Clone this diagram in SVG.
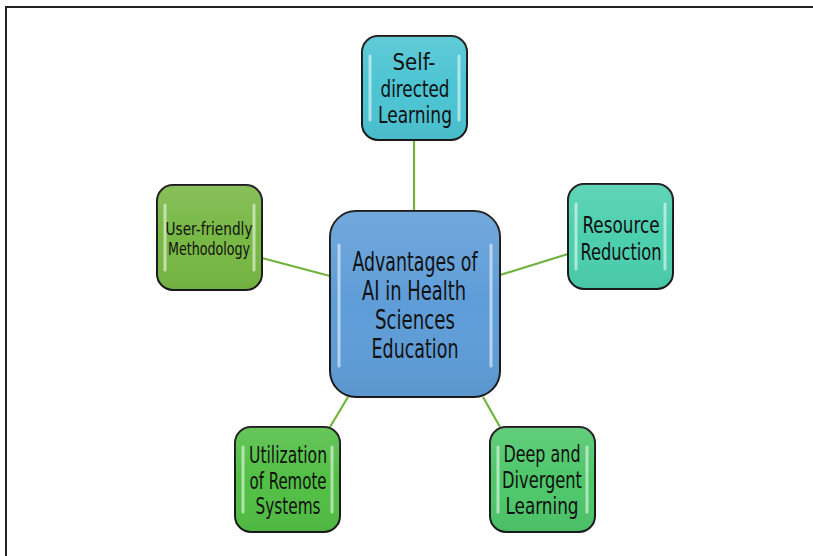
<svg xmlns="http://www.w3.org/2000/svg" width="813" height="556" viewBox="0 0 813 556">
<style>
.box{stroke:#1a1a1a;stroke-width:2}
.hl{fill:none;stroke:#ffffff;stroke-width:3;stroke-linecap:round;opacity:0.55}
.conn{stroke:#6fb43f;stroke-width:2.2;fill:none}
text{font-family:"DejaVu Sans Condensed","Liberation Sans",sans-serif;fill:#111;text-anchor:middle}
.t{font-size:23px}
.tc{font-size:26px}
.ts{font-size:17px}
</style>
<defs>
<linearGradient id="sh" x1="0" y1="0" x2="0" y2="1">
<stop offset="0" stop-color="#ffffff" stop-opacity="0.12"/>
<stop offset="0.5" stop-color="#ffffff" stop-opacity="0"/>
<stop offset="1" stop-color="#000000" stop-opacity="0.05"/>
</linearGradient>
</defs>
<rect x="6" y="7" width="820" height="560" fill="#fff" stroke="#222" stroke-width="2"/>
<g id="connectors">
<line class="conn" x1="414" y1="140" x2="414" y2="211"/>
<line class="conn" x1="262" y1="258" x2="330" y2="276"/>
<line class="conn" x1="568" y1="254" x2="500" y2="275"/>
<line class="conn" x1="330" y1="427" x2="348" y2="397"/>
<line class="conn" x1="500" y1="427" x2="483" y2="397"/>
</g>
<g id="center">
<rect class="box" x="330" y="211" width="170" height="186" rx="26" fill="#5f9dd8"/>
<rect x="330" y="211" width="170" height="186" rx="26" fill="url(#sh)"/>
<path class="hl" d="M339 245 V366 M491 245 V366"/>
<text class="tc" x="415" y="271" textLength="125" lengthAdjust="spacingAndGlyphs">Advantages of</text>
<text class="tc" x="414" y="300" textLength="104" lengthAdjust="spacingAndGlyphs">AI in Health</text>
<text class="tc" x="415" y="329" textLength="80" lengthAdjust="spacingAndGlyphs">Sciences</text>
<text class="tc" x="415" y="358" textLength="87" lengthAdjust="spacingAndGlyphs">Education</text>
</g>
<g id="self-directed">
<rect class="box" x="362" y="36" width="105" height="104" rx="16" fill="#4cc4d3"/>
<rect x="362" y="36" width="105" height="104" rx="16" fill="url(#sh)"/>
<path class="hl" d="M370 56 V120 M459 56 V120"/>
<text class="t" x="414" y="70" textLength="43" lengthAdjust="spacingAndGlyphs">Self-</text>
<text class="t" x="415" y="97" textLength="69" lengthAdjust="spacingAndGlyphs">directed</text>
<text class="t" x="415" y="123" textLength="74" lengthAdjust="spacingAndGlyphs">Learning</text>
</g>
<g id="user-friendly">
<rect class="box" x="157" y="185" width="105" height="105" rx="16" fill="#78b845"/>
<rect x="157" y="185" width="105" height="105" rx="16" fill="url(#sh)"/>
<path class="hl" d="M165 205 V270 M254 205 V270"/>
<text class="ts" x="209" y="235" textLength="87" lengthAdjust="spacingAndGlyphs">User-friendly</text>
<text class="ts" x="209" y="255" textLength="82" lengthAdjust="spacingAndGlyphs">Methodology</text>
</g>
<g id="resource">
<rect class="box" x="568" y="184" width="105" height="105" rx="16" fill="#4ccfad"/>
<rect x="568" y="184" width="105" height="105" rx="16" fill="url(#sh)"/>
<path class="hl" d="M576 204 V269 M665 204 V269"/>
<text class="t" x="621" y="233" textLength="77" lengthAdjust="spacingAndGlyphs">Resource</text>
<text class="t" x="621" y="260" textLength="81" lengthAdjust="spacingAndGlyphs">Reduction</text>
</g>
<g id="utilization">
<rect class="box" x="235" y="427" width="105" height="105" rx="16" fill="#52bf45"/>
<rect x="235" y="427" width="105" height="105" rx="16" fill="url(#sh)"/>
<path class="hl" d="M243 447 V512 M332 447 V512"/>
<text class="t" x="288" y="463" textLength="78" lengthAdjust="spacingAndGlyphs">Utilization</text>
<text class="t" x="288" y="489" textLength="77" lengthAdjust="spacingAndGlyphs">of Remote</text>
<text class="t" x="288" y="514" textLength="65" lengthAdjust="spacingAndGlyphs">Systems</text>
</g>
<g id="deep">
<rect class="box" x="490" y="427" width="105" height="105" rx="16" fill="#4ec76a"/>
<rect x="490" y="427" width="105" height="105" rx="16" fill="url(#sh)"/>
<path class="hl" d="M498 447 V512 M587 447 V512"/>
<text class="t" x="542" y="462" textLength="77" lengthAdjust="spacingAndGlyphs">Deep and</text>
<text class="t" x="542" y="488" textLength="80" lengthAdjust="spacingAndGlyphs">Divergent</text>
<text class="t" x="542" y="514" textLength="73" lengthAdjust="spacingAndGlyphs">Learning</text>
</g>
</svg>
